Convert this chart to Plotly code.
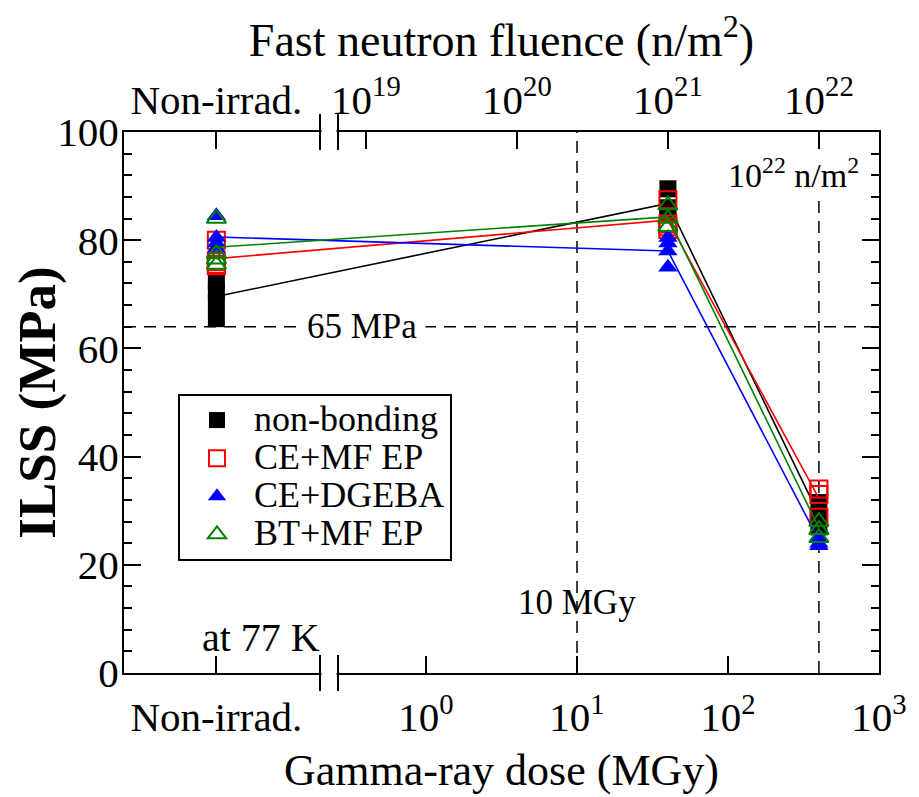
import plotly.graph_objects as go
import numpy as np

# ---- data ----
NONIRR_DOSE = 0.0409      # virtual position of the "Non-irrad." column (MGy)
DOSE_MID = 40             # MGy  (~1e21 n/m2)
DOSE_HIGH = 400           # MGy  (~1e22 n/m2)
FLUENCE_PER_MGY = 2.5e19  # n/m2 per MGy (top axis conversion)

series_names = ["non-bonding", "CE+MF EP", "CE+DGEBA", "BT+MF EP"]

nb_x = [NONIRR_DOSE]*4 + [DOSE_MID]*3 + [DOSE_HIGH]*3
nb_y = [72.5, 70.5, 68.5, 65.5, 89.5, 86.0, 85.0, 31.5, 29.0, 27.0]
nb_mean = [69.6, 86.8, 29.2]

cemf_x = [NONIRR_DOSE]*4 + [DOSE_MID]*4 + [DOSE_HIGH]*3
cemf_y = [80.0, 76.0, 75.5, 75.3, 87.5, 83.0, 82.5, 82.0, 34.0, 33.0, 28.8]
cemf_mean = [76.6, 83.7, 32.3]

ced_x = [NONIRR_DOSE]*4 + [DOSE_MID]*4 + [DOSE_HIGH]*3
ced_y = [84.5, 80.5, 79.5, 78.5, 80.5, 79.5, 78.0, 75.0, 25.0, 24.0, 23.5]
ced_mean = [80.6, 78.0, 24.5]

bt_x = [NONIRR_DOSE]*4 + [DOSE_MID]*3 + [DOSE_HIGH]*3
bt_y = [84.0, 77.5, 76.5, 75.5, 86.5, 84.0, 82.5, 28.0, 26.5, 25.0]
bt_mean = [78.7, 84.3, 26.8]

mean_x = [NONIRR_DOSE, DOSE_MID, DOSE_HIGH]

bottom_tickvals = [NONIRR_DOSE, 1, 10, 100, 1000]
bottom_ticktext = ["Non-irrad.", "10<sup>0</sup>", "10<sup>1</sup>", "10<sup>2</sup>", "10<sup>3</sup>"]
top_tickvals = [NONIRR_DOSE*FLUENCE_PER_MGY, 1e19, 1e20, 1e21, 1e22]
top_ticktext = ["Non-irrad.", "10<sup>19</sup>", "10<sup>20</sup>", "10<sup>21</sup>", "10<sup>22</sup>"]

LIMIT_MPA = 64
REF_DOSE = 10
REF_FLUENCE = 1e22

FONT = "Liberation Serif"
colors = ["#000000", "#ff0000", "#0000ff", "#008000"]
symbols = ["square", "square-open", "triangle-up", "triangle-up-open"]

fig = go.Figure()

DASH = "12px,8px"
# reference lines
fig.add_trace(go.Scatter(x=[0.01, 1000], y=[LIMIT_MPA, LIMIT_MPA], mode="lines",
                         line=dict(color="black", width=1.5, dash=DASH),
                         showlegend=False, hoverinfo="skip"))
fig.add_trace(go.Scatter(x=[REF_DOSE, REF_DOSE], y=[0, 100], mode="lines",
                         line=dict(color="black", width=1.5, dash=DASH),
                         showlegend=False, hoverinfo="skip"))
fig.add_trace(go.Scatter(x=[REF_FLUENCE/FLUENCE_PER_MGY]*2, y=[0, 87.5], mode="lines",
                         line=dict(color="black", width=1.5, dash=DASH),
                         showlegend=False, hoverinfo="skip"))

all_x = [nb_x, cemf_x, ced_x, bt_x]
all_y = [nb_y, cemf_y, ced_y, bt_y]
all_mean = [nb_mean, cemf_mean, ced_mean, bt_mean]

for name, xs, ys, mn, c, s in zip(series_names, all_x, all_y, all_mean, colors, symbols):
    fig.add_trace(go.Scatter(x=mean_x, y=mn, mode="lines", line=dict(color=c, width=1.6),
                             showlegend=False, hoverinfo="skip"))
    fig.add_trace(go.Scatter(x=xs, y=ys, mode="markers",
                             name='<span style="font-size:36px">' + name + '</span>',
                             marker=dict(symbol=s, size=17, color=c,
                                         line=dict(color=c, width=2 if "open" in s else 0))))

# dummy trace to activate top axis
fig.add_trace(go.Scatter(x=[1e20], y=[50], xaxis="x2", mode="markers",
                         marker=dict(opacity=0), showlegend=False, hoverinfo="skip"))

axis_common = dict(showline=True, linecolor="black", linewidth=2, ticks="inside",
                   tickcolor="black", tickwidth=2, showgrid=False, zeroline=False,
                   automargin=False)

W, H = 911, 789
ML, MR, MT, MB = 116, 40, 124, 124
plot_w = W - ML - MR
plot_h = H - MT - MB

fig.update_layout(
    width=W, height=H,
    margin=dict(l=ML, r=MR, t=MT, b=MB, autoexpand=False),
    paper_bgcolor="white", plot_bgcolor="white",
    font=dict(family=FONT, color="black"),
    xaxis=dict(type="log", range=[-2, 3], tickvals=bottom_tickvals, ticktext=bottom_ticktext,
               ticklen=17, ticklabelstandoff=7, **axis_common,
               tickfont=dict(family=FONT, size=41, color="black"),
               title=dict(text="Gamma-ray dose (MGy)", font=dict(family=FONT, size=44), standoff=15)),
    xaxis2=dict(type="log", overlaying="x", side="top",
                range=[np.log10(0.01*FLUENCE_PER_MGY), np.log10(1000*FLUENCE_PER_MGY)],
                tickvals=top_tickvals, ticktext=top_ticktext, ticklen=17, **axis_common,
                tickfont=dict(family=FONT, size=41, color="black"),
                title=dict(text="Fast neutron fluence (n/m<sup>2</sup>)", font=dict(family=FONT, size=46), standoff=10)),
    yaxis=dict(range=[0, 100], tickvals=[0, 20, 40, 60, 80, 100], ticklen=17, mirror="ticks",
               ticklabelstandoff=-5,
               minor=dict(dtick=4, ticklen=8, ticks="inside", tickcolor="black", tickwidth=2),
               **axis_common,
               tickfont=dict(family=FONT, size=41, color="black"),
               title=dict(text="<b>ILSS (MPa)</b>", font=dict(family=FONT, size=53), standoff=15)),
    legend=dict(x=(178 - 124) / plot_w, y=1 - (394 - 132) / plot_h, xanchor="left", yanchor="top",
                bordercolor="black", borderwidth=2, bgcolor="white", itemwidth=64,
                font=dict(family=FONT, size=27, color="black"), tracegroupgap=0),
    showlegend=True,
)

# axis breaks (paper coords along each horizontal axis)
bx0 = (320 - 124) / plot_w
bx1 = (338 - 124) / plot_w
for yc in (0, 1):
    fig.add_shape(type="rect", xref="paper", yref="paper", x0=bx0 + 0.002, x1=bx1 - 0.002,
                  y0=yc - 5/plot_h, y1=yc + 5/plot_h, fillcolor="white", line=dict(width=0),
                  layer="above")
    for bx in (bx0, bx1):
        fig.add_shape(type="line", xref="paper", yref="paper", x0=bx, x1=bx,
                      y0=yc - 18/plot_h, y1=yc + 18/plot_h, line=dict(color="black", width=2),
                      layer="above")

# annotations
fig.add_annotation(x=-2 + (362 - 124) / 151, y=LIMIT_MPA, text="65 MPa", showarrow=False,
                   font=dict(family=FONT, size=35), bgcolor="white", borderpad=8, xanchor="center")
fig.add_annotation(x=np.log10(REF_DOSE), y=13, text="10 MGy", showarrow=False,
                   font=dict(family=FONT, size=35), xanchor="center")
fig.add_annotation(x=-2 + (793 - 124) / 151, y=92.5, text="10<sup>22</sup> n/m<sup>2</sup>",
                   showarrow=False, font=dict(family=FONT, size=34), xanchor="center")
fig.add_annotation(xref="paper", x=(261 - 124) / plot_w, y=6.5, text="at 77 K", showarrow=False,
                   font=dict(family=FONT, size=40), xanchor="center")

fig.write_html("out.html")
